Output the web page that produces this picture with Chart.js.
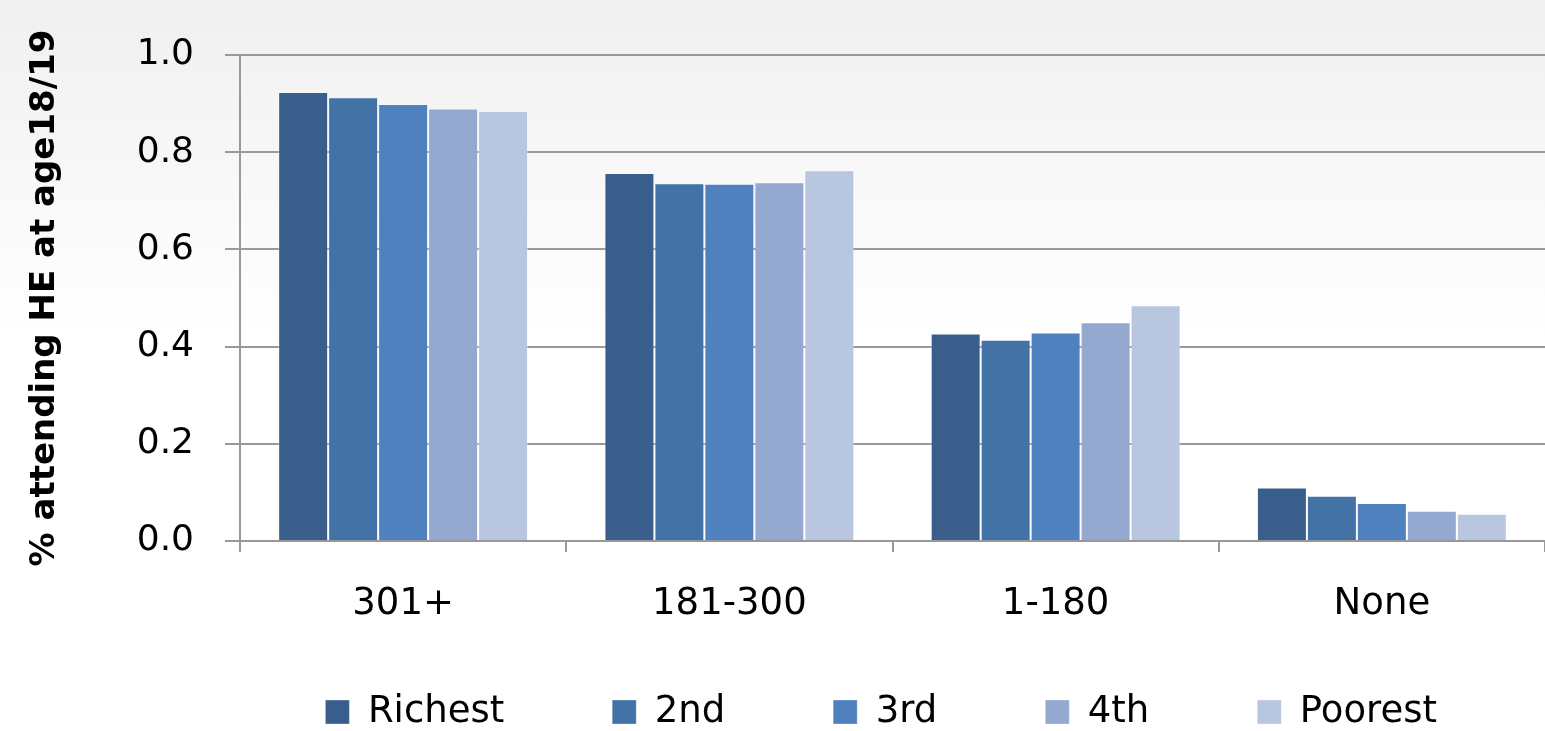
<!DOCTYPE html>
<html><head><meta charset="utf-8">
<script src="https://cdn.jsdelivr.net/npm/chart.js@4/dist/chart.umd.min.js"></script>
<style>html,body{margin:0;padding:0;background:#fff}#wrap{width:1545px;height:731px}</style>
</head><body><div id="wrap"><canvas id="c" width="1545" height="731"></canvas></div>
<script>
const categories = ['301+', '181-300', '1-180', 'None'];
const seriesNames = ['Richest', '2nd', '3rd', '4th', 'Poorest'];
const richest = [0.924, 0.757, 0.427, 0.110];
const second  = [0.913, 0.736, 0.414, 0.093];
const third   = [0.899, 0.735, 0.429, 0.078];
const fourth  = [0.890, 0.738, 0.450, 0.062];
const poorest = [0.885, 0.763, 0.485, 0.056];
const yTicks = [0, 0.2, 0.4, 0.6, 0.8, 1.0];
const seriesColors = ['#3a5e8b', '#4372a6', '#4e81bd', '#95a9d0', '#b9c6e0'];
const yTitle = '% attending HE at age18/19';

const seriesValues = [richest, second, third, fourth, poorest];
const gridColor = '#999999';
const FONT = "'DejaVu Sans'";
const LEGEND_PAD = 108;
const LEGEND_CENTER_Y = 712;
const LEGEND_FONT = 37;

const bgPlugin = {
  id: 'bg',
  beforeDraw(chart) {
    const {ctx, width, height} = chart;
    const g = ctx.createLinearGradient(0, 0, 0, 340);
    g.addColorStop(0, '#f0f0f0');
    g.addColorStop(1, '#ffffff');
    ctx.save();
    ctx.fillStyle = g;
    ctx.fillRect(0, 0, width, height);
    ctx.restore();
  }
};

// place the legend row at the wanted height (legend padding is used horizontally too)
const legendPlace = {
  id: 'legendPlace',
  afterLayout(chart) {
    const l = chart.legend;
    if (!l) return;
    const wantTop = LEGEND_CENTER_Y - LEGEND_FONT / 2 - LEGEND_PAD;
    const fullH = LEGEND_FONT + LEGEND_PAD + 10;
    l.top = wantTop;
    l.height = fullH;
    l.bottom = wantTop + fullH;
  }
};

new Chart(document.getElementById('c'), {
  type: 'bar',
  data: {
    labels: categories,
    datasets: seriesNames.map((name, i) => ({
      label: name,
      data: seriesValues[i],
      backgroundColor: seriesColors[i],
      borderColor: 'rgba(255,255,255,0.3)',
      borderWidth: 1,
      categoryPercentage: 0.766,
      barPercentage: 1.0
    }))
  },
  options: {
    responsive: false,
    animation: false,
    devicePixelRatio: 1,
    layout: {padding: {top: 55, left: 0, right: 0, bottom: 0}},
    plugins: {
      legend: {
        position: 'bottom',
        align: 'end',
        maxHeight: 100,
        labels: {
          font: {family: FONT, size: LEGEND_FONT},
          color: '#000',
          boxWidth: 24,
          boxHeight: 24,
          padding: LEGEND_PAD
        }
      },
      tooltip: {enabled: false}
    },
    scales: {
      x: {
        grid: {display: true, drawOnChartArea: false, drawTicks: true, tickLength: 11, color: gridColor, lineWidth: 2, offset: true},
        border: {display: true, color: gridColor, width: 2},
        ticks: {font: {family: FONT, size: 37}, color: '#000', padding: 30, maxRotation: 0},
        afterFit(scale) { scale.height = 90; }
      },
      y: {
        min: 0, max: 1,
        afterBuildTicks(scale) { scale.ticks = yTicks.map(v => ({value: v})); },
        grid: {color: gridColor, lineWidth: 2, tickLength: 15, drawTicks: true},
        border: {display: true, color: gridColor, width: 2},
        ticks: {font: {family: FONT, size: 36}, color: '#000', padding: 31, callback: v => Number(v).toFixed(1)},
        title: {display: true, text: yTitle, font: {family: FONT, size: 34, weight: 'bold'}, color: '#000', padding: {top: 25, bottom: 0}},
        afterFit(scale) { scale.width = 240; }
      }
    }
  },
  plugins: [bgPlugin, legendPlace]
});
</script></body></html>
